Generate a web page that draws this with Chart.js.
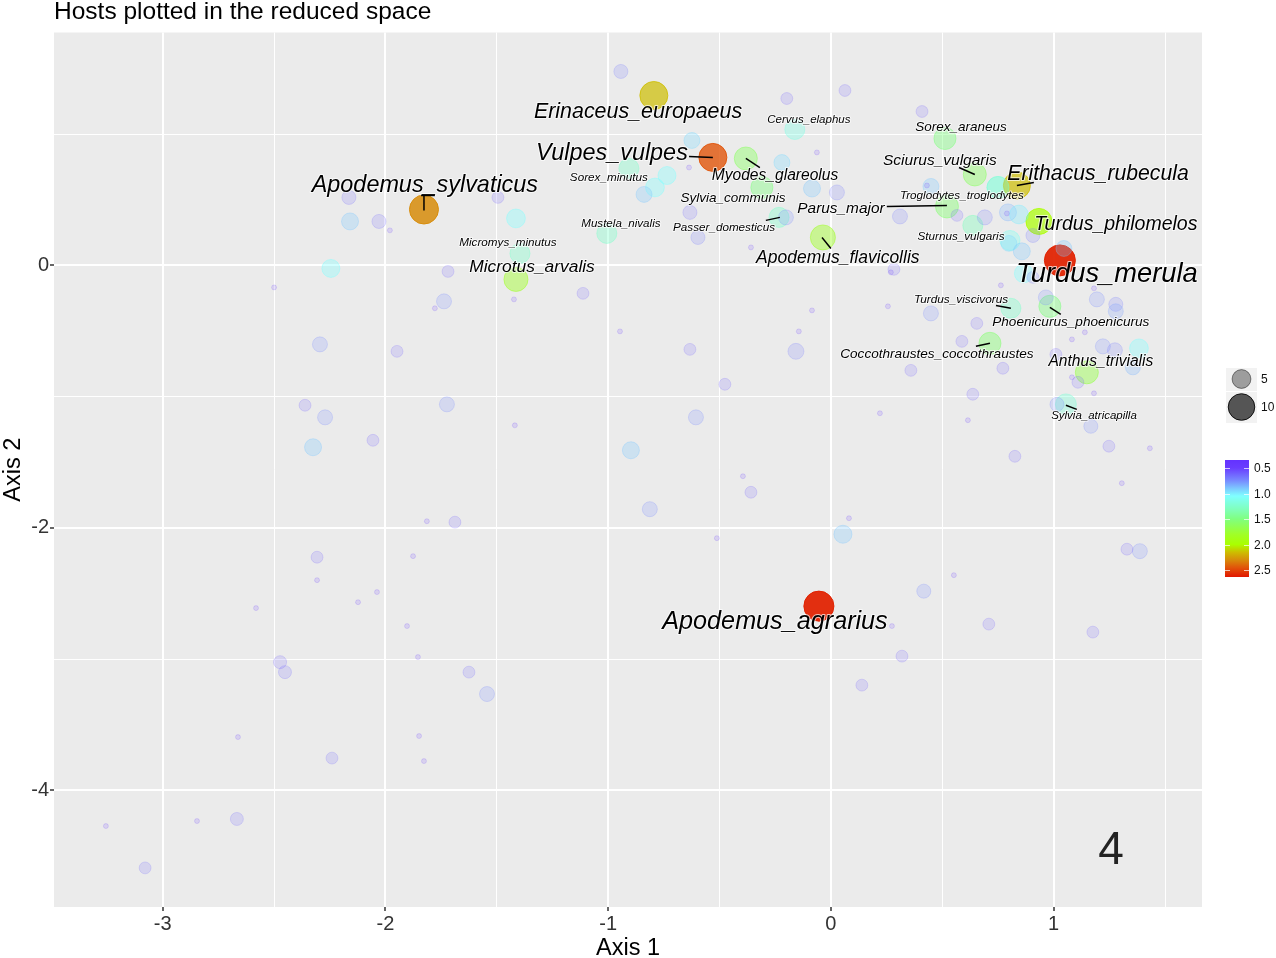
<!DOCTYPE html>
<html>
<head>
<meta charset="utf-8">
<title>Hosts plotted in the reduced space</title>
<script src="https://cdn.jsdelivr.net/npm/chart.js@4/dist/chart.umd.min.js"></script>
<style>
  body { margin: 0; background: #fff; }
  canvas { display: block; }
</style>
</head>
<body>
<canvas id="hostChart" width="1276" height="958"></canvas>
<script>
// hosts too rare to show much: one size, one colour value
const rareSize = 0.35;
const rareColor = 0.5;
const rareX = [-0.063, -0.637, 0.431, 0.790, -0.359, 0.269, 0.763, 1.181, 0.256, -0.085, -0.144, 1.140, 1.082, 1.082, 1.181, 0.220, 0.615, 1.432, 1.306, 0.081, 0.552, 0.274, -0.395, -0.512, -0.947, -1.423, -1.419, -1.980, -2.500, -1.778, -1.814, -1.876, -2.307, -2.038, -2.123, -2.581, -1.903, -1.854, -2.662, -1.849, -1.827, -3.255, -2.846];
const rareY = [0.861, 0.746, 0.609, 0.396, 0.137, -0.053, -0.152, -0.175, -0.312, -0.343, -0.503, -0.510, -0.564, -0.853, -0.975, -1.127, -1.180, -1.394, -1.660, -1.927, -2.361, -2.749, -1.607, -2.079, -0.503, -0.259, -1.219, 0.267, -0.168, -0.327, -1.950, -2.216, -2.399, -2.490, -2.567, -2.612, -2.749, -2.985, -3.595, -3.587, -3.778, -4.273, -4.235];

// unlabelled hosts
const midX = [-0.943, -0.198, 0.063, 0.409, -0.624, -0.220, -0.736, -0.790, -0.839, -0.085, 0.027, 0.449, 0.750, 0.310, 0.566, 0.691, 0.795, 0.844, 0.907, 0.804, 0.799, 0.857, 1.046, -0.202, -0.633, -0.597, 0.283, 0.866, 0.907, 1.194, 0.965, 0.449, 1.279, 1.279, 0.655, 0.588, 1.221, 1.275, 1.383, 1.010, 1.356, 0.772, 0.359, -0.157, 1.109, 0.637, 1.015, 1.167, 1.248, 0.826, 0.054, 1.329, 1.387, 0.417, 0.709, 1.176, 0.319, 0.139, -0.476, -0.359, -0.606, -0.813, -0.898, -0.633, -1.113, -2.164, -2.159, -2.029, -1.495, -1.414, -2.245, -1.719, -1.737, -2.294, -1.948, -2.361, -2.271, -1.724, -2.325, -2.056, -1.688, -2.307, -2.473, -2.451, -1.625, -1.544, -2.240, -2.667, -3.079];
const midY = [1.478, 1.272, 1.333, 1.173, 0.952, 0.784, 0.685, 0.594, 0.541, 0.586, 0.556, 0.602, 0.594, 0.373, 0.381, 0.366, 0.404, 0.388, 0.228, 0.190, 0.168, 0.107, 0.129, 0.366, 0.404, 0.213, -0.030, -0.061, -0.091, -0.259, -0.244, -0.366, -0.297, -0.350, -0.442, -0.579, -0.617, -0.647, -0.632, -0.678, -0.777, -0.784, -0.800, -0.655, -0.891, -0.982, -1.059, -1.226, -1.378, -1.455, -2.049, -2.163, -2.178, -2.483, -2.734, -2.795, -2.978, -3.199, -0.906, -1.729, -1.158, -1.858, -1.409, -0.640, -0.213, 0.518, 0.335, 0.335, 0.518, 0.358, -0.023, -0.046, -0.274, -0.602, -0.655, -1.066, -1.158, -1.059, -1.386, -1.333, -1.957, -2.224, -3.024, -3.100, -3.100, -3.267, -3.755, -4.219, -4.592];
const midSize = [2.8, 2, 2, 2, 3.6, 3.6, 4.6, 5, 3.6, 4.1, 3.2, 3.6, 6.9, 3.2, 2, 3.2, 4.1, 5, 2.8, 5.7, 3.6, 4.1, 3.6, 3.2, 2.8, 2.8, 2, 5, 2, 3.2, 3.2, 3.2, 2.8, 3.2, 2, 2, 3.2, 3.2, 5, 2, 3.2, 2, 2, 3.6, 2, 2, 2.8, 2.8, 2, 2, 4.6, 2, 3.2, 2.8, 2, 2, 2, 2, 2, 2, 3.2, 3.2, 4.1, 2, 2, 2.8, 4.1, 2.8, 2, 5, 4.6, 2, 3.2, 3.2, 2, 2, 3.2, 3.2, 4.1, 2, 2, 2, 2.4, 2.4, 2, 3.2, 2, 2.4, 2];
const midColor = [0.7, 0.6, 0.6, 0.6, 0.95, 0.95, 1.05, 1.05, 0.9, 0.9, 0.7, 0.9, 1.2, 0.7, 0.6, 0.7, 0.85, 1.0, 0.7, 1.1, 0.95, 0.9, 0.9, 0.75, 0.65, 0.7, 0.6, 1.05, 0.7, 0.75, 0.75, 0.75, 0.7, 0.8, 0.6, 0.6, 0.75, 0.7, 1.05, 0.6, 0.85, 0.6, 0.6, 0.7, 0.6, 0.6, 0.75, 0.75, 0.6, 0.6, 0.9, 0.6, 0.75, 0.75, 0.6, 0.6, 0.6, 0.6, 0.6, 0.6, 0.75, 0.75, 0.9, 0.6, 0.6, 0.65, 0.9, 0.65, 0.6, 1.05, 1.05, 0.6, 0.75, 0.75, 0.6, 0.6, 0.75, 0.75, 0.9, 0.6, 0.6, 0.6, 0.6, 0.65, 0.65, 0.75, 0.65, 0.65, 0.65];

// labelled hosts
const hostNames = ['Turdus_viscivorus', 'Sylvia_atricapilla', 'Cervus_elaphus', 'Sorex_minutus', 'Mustela_nivalis', 'Passer_domesticus', 'Micromys_minutus', 'Sturnus_vulgaris', 'Troglodytes_troglodytes', 'Sylvia_communis', 'Sorex_araneus', 'Sciurus_vulgaris', 'Parus_major', 'Phoenicurus_phoenicurus', 'Coccothraustes_coccothraustes', 'Anthus_trivialis', 'Myodes_glareolus', 'Microtus_arvalis', 'Apodemus_flavicollis', 'Turdus_philomelos', 'Erithacus_rubecula', 'Erinaceus_europaeus', 'Vulpes_vulpes', 'Apodemus_sylvaticus', 'Turdus_merula', 'Apodemus_agrarius'];
const hostX = [0.808, 1.055, -0.162, -0.907, -1.006, -0.233, -1.396, 0.637, 0.750, -0.310, 0.512, 0.646, 0.521, 0.983, 0.714, 1.149, -0.382, -1.414, -0.036, 0.934, 0.835, -0.795, -0.530, -1.827, 1.028, -0.054];
const hostY = [-0.327, -1.059, 1.036, 0.739, 0.244, 0.366, 0.091, 0.305, 0.594, 0.594, 0.967, 0.693, 0.449, -0.312, -0.594, -0.815, 0.815, -0.107, 0.213, 0.335, 0.609, 1.295, 0.823, 0.426, 0.038, -2.597];
const hostSize = [5.7, 6.2, 5.7, 5.7, 5.7, 5.7, 5.7, 5.7, 6.9, 6.9, 6.9, 7.5, 7.5, 6.9, 6.9, 7.5, 7.5, 8.2, 8.9, 9.6, 10.3, 11.1, 11.1, 11.9, 13.6, 12.8];
const hostColor = [1.25, 1.2, 1.15, 1.25, 1.25, 1.25, 1.25, 1.3, 1.2, 1.5, 1.5, 1.6, 1.55, 1.5, 1.55, 1.7, 1.6, 1.8, 1.8, 2.0, 2.15, 2.15, 2.45, 2.3, 2.6, 2.6];

// where the names sit, and how big
const labelX = [0.584, 1.181, -0.099, -0.997, -0.943, -0.480, -1.450, 0.584, 0.588, -0.440, 0.584, 0.489, 0.045, 1.077, 0.476, 1.212, -0.251, -1.342, 0.031, 1.279, 1.199, -0.866, -0.983, -1.823, 1.239, -0.251];
const labelY = [-0.259, -1.150, 1.112, 0.670, 0.320, 0.289, 0.175, 0.221, 0.533, 0.510, 1.051, 0.800, 0.434, -0.434, -0.678, -0.731, 0.685, -0.008, 0.061, 0.320, 0.701, 1.173, 0.861, 0.617, -0.061, -2.711];
const labelFont = [11.8, 11.5, 11.5, 11.7, 11.6, 11.7, 11.7, 11.7, 11.7, 13.5, 13.5, 15.5, 15.4, 13.6, 13.6, 15.6, 15.6, 17.4, 17.5, 19.5, 21.2, 21.4, 23.4, 23.4, 27.3, 25.2];

// leader lines x1, y1, x2, y2
const leaderLines = [
  [-0.637, 0.830, -0.530, 0.823],
  [-0.382, 0.815, -0.319, 0.746],
  [0.251, 0.449, 0.521, 0.457],
  [-0.292, 0.343, -0.229, 0.366],
  [-0.040, 0.213, 0, 0.129],
  [0.575, 0.746, 0.646, 0.693],
  [0.835, 0.609, 0.911, 0.632],
  [0.741, -0.305, 0.808, -0.327],
  [0.983, -0.320, 1.032, -0.373],
  [0.651, -0.617, 0.714, -0.594],
  [1.055, -1.066, 1.104, -1.097],
  [-1.827, 0.419, -1.827, 0.533],
  [-1.840, 0.533, -1.778, 0.533]
];

const xMajor = [-3, -2, -1, 0, 1];
const xMinor = [-3.5, -2.5, -1.5, -0.5, 0.5, 1.5];
const yMajor = [-4, -2, 0];
const yMinor = [-3, -1, 1];
const sizeKey = [5, 10];
const colorKey = [0.5, 1.0, 1.5, 2.0, 2.5];
const panelLabel = '4';

// value -> colour, rough copy of the colour bar. last number is the alpha of the points
const colorStops = [
  [0.35, 100, 50, 255, 0.14],
  [0.5, 106, 61, 255, 0.15],
  [0.75, 120, 140, 255, 0.2],
  [0.9, 125, 200, 255, 0.28],
  [1.05, 128, 255, 255, 0.35],
  [1.3, 128, 255, 190, 0.38],
  [1.5, 128, 255, 128, 0.42],
  [1.8, 160, 255, 40, 0.45],
  [2.0, 170, 255, 0, 0.7],
  [2.15, 205, 190, 0, 0.7],
  [2.3, 215, 140, 10, 0.85],
  [2.45, 225, 85, 10, 0.8],
  [2.63, 225, 25, 0, 0.97]
];

function stopAt(v) {
  for (let i = 1; i < colorStops.length; i++) {
    const a = colorStops[i - 1], b = colorStops[i];
    if (v <= b[0]) {
      const t = Math.max(0, (v - a[0]) / (b[0] - a[0]));
      return a.map((n, k) => n + (b[k] - n) * t);
    }
  }
  return colorStops[colorStops.length - 1];
}

function fillColor(v) {
  const s = stopAt(v);
  return `rgba(${s[1]},${s[2]},${s[3]},${s[4]})`;
}

function edgeColor(v) {
  const s = stopAt(v);
  return `rgba(${s[1]},${s[2]},${s[3]},${Math.min(1, s[4] * 1.15)})`;
}

function radius(size) {
  return 4.2 * Math.sqrt(size);
}

function bubbles(xs, ys, sizes, colors) {
  return {
    data: xs.map((x, i) => ({ x: x, y: ys[i], r: radius(sizes[i]) })),
    backgroundColor: colors.map(fillColor),
    borderColor: colors.map(edgeColor),
    borderWidth: 1
  };
}

const fontName = '"Liberation Sans", Arial, sans-serif';

const panelBackground = {
  id: 'panelBackground',
  beforeDraw(chart) {
    const a = chart.chartArea;
    chart.ctx.fillStyle = '#EBEBEB';
    chart.ctx.fillRect(a.left, a.top, a.right - a.left, a.bottom - a.top);
  }
};

const hostLabels = {
  id: 'hostLabels',
  afterDatasetsDraw(chart) {
    const ctx = chart.ctx, sx = chart.scales.x, sy = chart.scales.y;
    ctx.save();
    ctx.textAlign = 'center';
    ctx.textBaseline = 'middle';
    ctx.lineJoin = 'round';
    hostNames.forEach((name, i) => {
      const px = sx.getPixelForValue(labelX[i]);
      const py = sy.getPixelForValue(labelY[i]) + (labelFont[i] > 17 ? 1 : 0);
      ctx.font = `italic ${labelFont[i]}px ${fontName}`;
      ctx.strokeStyle = 'rgba(255,255,255,0.7)';
      ctx.lineWidth = 2;
      ctx.strokeText(name, px, py);
      ctx.fillStyle = '#000';
      ctx.fillText(name, px, py);
    });
    ctx.strokeStyle = '#000';
    ctx.lineWidth = 1.5;
    leaderLines.forEach(l => {
      ctx.beginPath();
      ctx.moveTo(sx.getPixelForValue(l[0]), sy.getPixelForValue(l[1]));
      ctx.lineTo(sx.getPixelForValue(l[2]), sy.getPixelForValue(l[3]));
      ctx.stroke();
    });
    ctx.fillStyle = '#222';
    ctx.font = `46px ${fontName}`;
    ctx.fillText(panelLabel, 1111, 851);
    ctx.restore();
  }
};

// size key and colour bar on the right
const keys = {
  id: 'keys',
  afterDraw(chart) {
    const ctx = chart.ctx;
    ctx.save();
    ctx.textBaseline = 'middle';
    ctx.textAlign = 'left';
    ctx.font = `12px ${fontName}`;

    const rows = [[368, 23, 379], [392, 31, 407]];
    const fills = ['rgba(0,0,0,0.35)', 'rgba(0,0,0,0.65)'];
    const edges = ['rgba(0,0,0,0.45)', 'rgba(0,0,0,0.85)'];
    sizeKey.forEach((size, i) => {
      ctx.fillStyle = '#F2F2F2';
      ctx.fillRect(1226, rows[i][0], 31, rows[i][1]);
      ctx.beginPath();
      ctx.arc(1241.5, rows[i][2], radius(size), 0, Math.PI * 2);
      ctx.fillStyle = fills[i];
      ctx.fill();
      ctx.strokeStyle = edges[i];
      ctx.lineWidth = 1;
      ctx.stroke();
      ctx.fillStyle = '#111';
      ctx.fillText(String(size), 1261, rows[i][2] + 1);
    });

    const top = 460, bottom = 577, left = 1225, right = 1249;
    const pos = v => 468 + (v - 0.5) * 51;
    const grad = ctx.createLinearGradient(0, top, 0, bottom);
    colorStops.forEach(s => {
      const t = (pos(s[0]) - top) / (bottom - top);
      grad.addColorStop(Math.min(1, Math.max(0, t)), `rgb(${s[1]},${s[2]},${s[3]})`);
    });
    ctx.fillStyle = grad;
    ctx.fillRect(left, top, right - left, bottom - top);
    ctx.strokeStyle = 'rgba(255,255,255,0.7)';
    ctx.lineWidth = 1;
    colorKey.forEach(v => {
      const y = Math.round(pos(v)) + 0.5;
      ctx.beginPath();
      ctx.moveTo(left, y);
      ctx.lineTo(left + 5, y);
      ctx.moveTo(right - 5, y);
      ctx.lineTo(right, y);
      ctx.stroke();
      ctx.fillStyle = '#111';
      ctx.fillText(v.toFixed(1), 1254, pos(v) + 1);
    });
    ctx.restore();
  }
};

function axis(min, max, major, minor, titleText, titlePad, fit) {
  return {
    type: 'linear',
    min: min,
    max: max,
    afterBuildTicks(scale) {
      scale.ticks = major.concat(minor).sort((a, b) => a - b).map(v => ({ value: v }));
    },
    afterFit: fit,
    border: { display: false },
    grid: {
      color: '#fff',
      lineWidth: c => (major.includes(c.tick.value) ? 2 : 1),
      tickColor: c => (major.includes(c.tick.value) ? '#333' : 'rgba(0,0,0,0)'),
      tickWidth: 1.5,
      tickLength: 4
    },
    ticks: {
      autoSkip: false,
      maxRotation: 0,
      padding: 1,
      color: '#333',
      font: { family: fontName, size: 20 },
      callback: v => (major.includes(v) ? String(v) : '')
    },
    title: {
      display: true,
      text: titleText,
      color: '#000',
      padding: titlePad,
      font: { family: fontName, size: 23.5, lineHeight: 1 }
    }
  };
}

new Chart(document.getElementById('hostChart'), {
  type: 'bubble',
  data: {
    datasets: [
      bubbles(rareX, rareY, rareX.map(() => rareSize), rareX.map(() => rareColor)),
      bubbles(midX, midY, midSize, midColor),
      bubbles(hostX, hostY, hostSize, hostColor)
    ]
  },
  options: {
    responsive: false,
    animation: false,
    layout: { padding: { right: 74, bottom: 0 } },
    plugins: {
      legend: { display: false },
      tooltip: { enabled: false },
      title: {
        display: true,
        text: 'Hosts plotted in the reduced space',
        align: 'start',
        fullSize: false,
        color: '#000',
        padding: { top: 0, bottom: 8 },
        font: { family: fontName, size: 24.5, weight: 'normal', lineHeight: 1 }
      }
    },
    scales: {
      x: axis(-3.488, 1.666, xMajor, xMinor, 'Axis 1', { top: 0, bottom: -2 }, s => { s.height = 51; }),
      y: axis(-4.89, 1.775, yMajor, yMinor, 'Axis 2', { top: 2, bottom: 0 }, s => { s.width = 54; })
    }
  },
  plugins: [panelBackground, hostLabels, keys]
});
</script>
</body>
</html>
